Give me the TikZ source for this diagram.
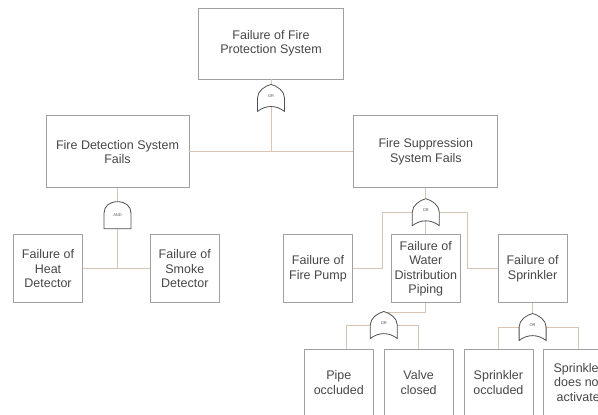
\documentclass[tikz,border=0pt]{standalone}
\usepackage{fontspec}
\setmainfont{Liberation Sans}
\usetikzlibrary{positioning}
\definecolor{boxgray}{RGB}{160,160,160}
\definecolor{linktan}{RGB}{220,196,178}
\definecolor{gategray}{RGB}{80,80,80}
\definecolor{txtgray}{RGB}{70,70,70}
\tikzset{
  evt/.style={draw=boxgray, rectangle, minimum width=143pt, minimum height=72pt, align=center, font=\fontsize{12.5}{14.5}\selectfont, text=txtgray, line width=0.8pt, inner sep=1pt},
  sevt/.style={evt, minimum width=69pt, minimum height=68pt},
  bevt/.style={evt, minimum width=69pt, minimum height=66pt},
  conn/.style={draw=linktan, line width=0.8pt},
  gateline/.style={draw=gategray, fill=white, line width=0.8pt},
  gatetxt/.style={font=\fontsize{4}{4}\selectfont, text=gategray, inner sep=0pt},
  orgate/.pic={
    \filldraw[gateline] (-13.5pt,-13.5pt) -- (-13.5pt,0pt)
      .. controls (-13.5pt,7pt) and (-6pt,12pt) .. (0pt,13.5pt)
      .. controls (6pt,12pt) and (13.5pt,7pt) .. (13.5pt,0pt)
      -- (13.5pt,-13.5pt) .. controls (5pt,-7pt) and (-5pt,-7pt) .. cycle;
    \node[gatetxt] (-lbl) at (0pt,2pt) {OR};
  },
  andgate/.pic={
    \filldraw[gateline] (-13.5pt,-13.5pt) -- (-13.5pt,2pt)
      .. controls (-13.5pt,9pt) and (-8pt,13.5pt) .. (0pt,13.5pt)
      .. controls (8pt,13.5pt) and (13.5pt,9pt) .. (13.5pt,2pt)
      -- (13.5pt,-13.5pt) -- cycle;
    \node[gatetxt] (-lbl) at (0pt,0pt) {AND};
  },
}

\begin{document}
\begin{tikzpicture}[x=1pt, y=-1pt]
\useasboundingbox (0,0) rectangle (598,415);

\node[evt, minimum width=145pt, minimum height=71pt] (top) at (271,43.5)
  {Failure of Fire\\Protection System};

\node[evt, below=36pt of top, xshift=-153.5pt] (det) {Fire Detection System\\Fails};
\node[evt, right=164pt of det, minimum width=144pt] (sup) {Fire Suppression\\System Fails};

\node[sevt, below=46pt of det, xshift=-69.5pt] (heat) {Failure of\\Heat\\Detector};
\node[sevt, right=67pt of heat] (smoke) {Failure of\\Smoke\\Detector};

\node[sevt, below=46pt of sup] (water) {Failure of\\Water\\Distribution\\Piping};
\node[sevt, left=38pt of water] (pump) {Failure of\\Fire Pump};
\node[sevt, right=37pt of water] (spr) {Failure of\\Sprinkler};

\node[bevt, below=46pt of water, xshift=-87pt] (pipe) {Pipe\\occluded};
\node[bevt, right=10pt of pipe] (valve) {Valve\\closed};
\node[bevt, right=10pt of valve] (socc) {Sprinkler\\occluded};
\node[bevt, right=10pt of socc] (snot) {Sprinkler\\does not\\activate};

% gates
\coordinate[below=18.5pt of top] (gtop);
\coordinate[below=27pt of det] (gdet);
\coordinate[below=24pt of sup] (gsup);
\coordinate[below left=22pt and 42pt of water.south] (gw);
\coordinate[below=24pt of spr] (gspr);

\draw[conn] (top) -- (gtop);
\draw[conn] (gtop) -- (gtop |- det.east);
\draw[conn] (det) -- (sup);

\draw[conn] (det) -- (gdet);
\draw[conn] (gdet) -- (gdet |- heat.east);
\draw[conn] (heat) -- (smoke);

\draw[conn] (sup) -- (gsup);
\draw[conn] (gsup) -- (gsup |- water.north);
\draw[conn] (gsup) -| ([xshift=29pt]pump.east) -- (pump);
\draw[conn] (gsup) -| ([xshift=-30pt]spr.west) -- (spr);

\draw[conn] (water) |- ([yshift=13pt]gw) -- (gw);
\draw[conn] (gw) -| ([xshift=8pt]pipe.north);
\draw[conn] (gw) -| (valve);

\draw[conn] (spr) -- (gspr);
\draw[conn] (gspr) -| (socc);
\draw[conn] (gspr) -| (snot);

\pic (gtop) at (gtop) {orgate};
\pic (gdet) at (gdet) {andgate};
\pic (gsup) at (gsup) {orgate};
\pic (gw) at (gw) {orgate};
\pic (gspr) at (gspr) {orgate};

\end{tikzpicture}
\end{document}
